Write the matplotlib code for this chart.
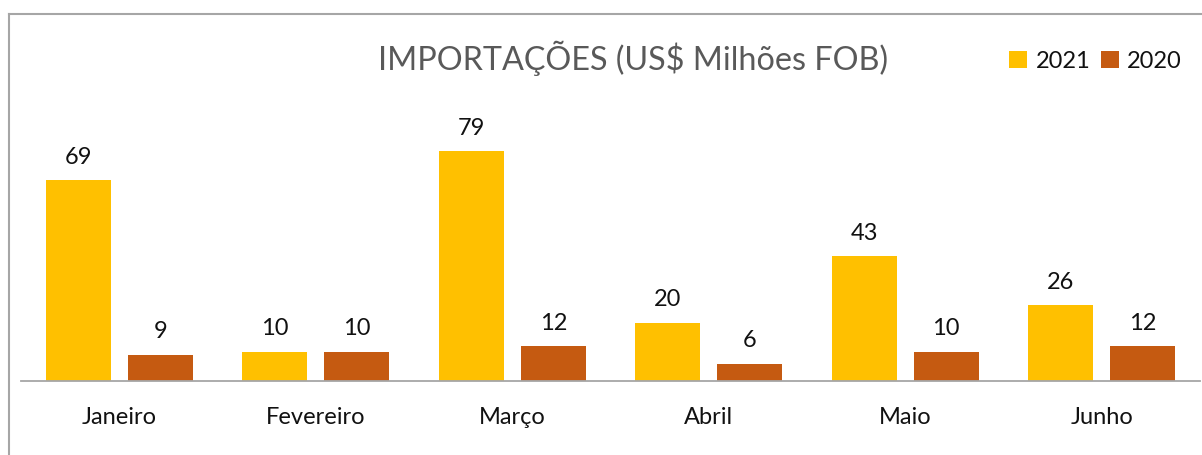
import numpy as np
import matplotlib.pyplot as plt
from matplotlib.lines import Line2D

# dados
meses = ['Janeiro', 'Fevereiro', 'Março', 'Abril', 'Maio', 'Junho']
imp_2021 = [69, 10, 79, 20, 43, 26]
imp_2020 = [9, 10, 12, 6, 10, 12]

cor_2021 = '#FFC000'
cor_2020 = '#C55A11'

plt.rcParams['font.family'] = ['Lato', 'DejaVu Sans']

fig = plt.figure(figsize=(12.02, 4.55), dpi=100)
ax = fig.add_axes([21 / 1202, 74 / 455, 1179 / 1202, 263 / 455])

x = np.arange(len(meses))
w = 0.33
off = 0.2085
b1 = ax.bar(x - off, imp_2021, w, color=cor_2021, label='2021')
b2 = ax.bar(x + off, imp_2020, w, color=cor_2020, label='2020')

ax.bar_label(b1, padding=9, fontsize=17, color='#111111')
ax.bar_label(b2, padding=9, fontsize=17, color='#111111')

ax.set_xlim(-0.5, len(meses) - 0.5)
ax.set_ylim(0, 90.5)
ax.set_xticks(x)
ax.set_xticklabels(meses, fontsize=17, color='#111111')
ax.tick_params(axis='x', length=0, pad=19)
ax.set_yticks([])
for s in ['top', 'right', 'left']:
    ax.spines[s].set_visible(False)
ax.spines['bottom'].set_color('#A6A6A6')
ax.spines['bottom'].set_linewidth(1.3)

# titulo
fig.text(633 / 1202, 1 - 58 / 455, 'IMPORTAÇÕES (US$ Milhões FOB)', ha='center', va='center',
         fontsize=23.3, color='#595959')

# legenda
fig.legend(handles=[b1, b2], loc='center right', bbox_to_anchor=(1191 / 1202, 1 - 61 / 455),
           ncol=2, frameon=False, fontsize=17, handlelength=0.75, handleheight=0.75,
           handletextpad=0.35, columnspacing=0.45, borderaxespad=0, labelcolor='#111111')

# borda do grafico
fig.add_artist(Line2D([8.5 / 1202, 8.5 / 1202], [0, 1 - 13.5 / 455], color='#A6A6A6', lw=1.5))
fig.add_artist(Line2D([8.5 / 1202, 1], [1 - 13.5 / 455, 1 - 13.5 / 455], color='#A6A6A6', lw=1.5))

fig.savefig('out.png', dpi=100)
